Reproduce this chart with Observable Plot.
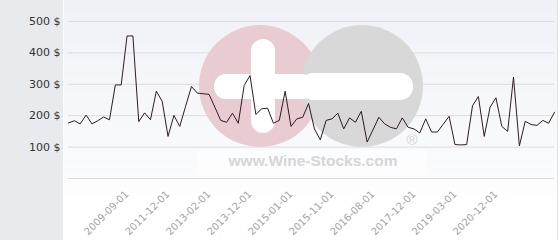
<!DOCTYPE html>
<html>
<head>
<meta charset="utf-8">
<script src="https://cdn.jsdelivr.net/npm/d3@7"></script>
<script src="https://cdn.jsdelivr.net/npm/@observablehq/plot@0.6"></script>
<style>
  html, body { margin: 0; padding: 0; background: #ffffff; }
  #wrap {
    position: relative; width: 560px; height: 240px; overflow: hidden;
    background:
      linear-gradient(to right, #e7ebee 0px, #e7ebee 63px, #ffffff 63px, #ffffff 64px, rgba(0,0,0,0) 64px, rgba(0,0,0,0) 557px, #e2e2e2 557px, #e2e2e2 558px, #ffffff 558px),
      linear-gradient(to bottom, #f0f1f7 0px, #fafbfd 170px, #ffffff 200px);
  }
  #wm, #under, #over { position: absolute; left: 0; top: 0; }
</style>
</head>
<body>
<div id="wrap">
  <div id="under"></div>
  <svg id="wm" width="560" height="240" xmlns="http://www.w3.org/2000/svg">
    <circle cx="260" cy="86" r="61" fill="#e9cbd2"/>
    <circle cx="362" cy="86" r="61" fill="#d8d8d9"/>
    <rect x="251" y="39" width="24" height="94" rx="12" fill="#ffffff"/>
    <rect x="214" y="74" width="100" height="25" rx="12" fill="#ffffff"/>
    <rect x="300" y="73" width="113" height="27" rx="13" fill="#ffffff"/>
    <rect x="197" y="150" width="230" height="25" fill="#ffffff" opacity="0.55"/>
    <text x="313" y="166" text-anchor="middle" font-family="Liberation Sans, Arial, sans-serif" font-weight="bold" font-size="15.5" fill="#d6d6d6">www.Wine-Stocks.com</text>
    <text x="412" y="145" text-anchor="middle" font-family="Liberation Sans, Arial, sans-serif" font-size="15" fill="#d2d2d2">®</text>
  </svg>
  <div id="over"></div>
</div>
<script>
// Price per auction (USD), in chronological order
const prices = [
  177, 184, 174, 202, 174, 184, 196, 187, 298, 298,
  454, 454, 181, 209, 187, 278, 246, 134, 201, 166,
  230, 293, 272, 270, 268, 227, 185, 179, 208, 176,
  296, 328, 204, 222, 224, 176, 185, 278, 166, 190,
  195, 239, 158, 123, 185, 190, 208, 158, 193, 179,
  214, 116, 155, 195, 174, 163, 158, 193, 163, 158,
  145, 190, 148, 148, 173, 198, 108, 107, 108, 232,
  261, 134, 227, 257, 166, 150, 323, 104, 182, 172,
  169, 185, 176, 211
];
// Auction positions that carry a date label, and those labels
const labelPositions = [10, 17, 24, 31, 38, 45, 52, 59, 66, 73];
const dateLabels = [
  "2009-09-01", "2011-12-01", "2013-02-01", "2013-12-01", "2015-01-01",
  "2015-11-01", "2016-08-01", "2017-12-01", "2019-03-01", "2020-12-01"
];
const yTicks = [100, 200, 300, 400, 500];
const gridTicks = [0, 100, 200, 300, 400, 500];

const rows = prices.map((p, i) => ({i, price: p}));
const labelOf = new Map(labelPositions.map((p, k) => [p, dateLabels[k]]));

const common = {
  width: 560,
  height: 240,
  marginLeft: 68,
  marginRight: 6,
  marginTop: 21,
  marginBottom: 62,
  style: {background: "transparent", fontFamily: "DejaVu Sans, sans-serif", overflow: "visible"},
  x: {domain: [0, prices.length - 1], axis: null},
  y: {domain: [0, 500], axis: null}
};

// Grid and axes (below the watermark)
const under = Plot.plot({
  ...common,
  marks: [
    Plot.gridY(gridTicks, {stroke: "#dcdcdc", strokeOpacity: 1, strokeWidth: 1}),
    Plot.axisY(yTicks, {tickSize: 0, tickPadding: 8, fontSize: 11, fill: "#333333", tickFormat: d => `${d} $`, label: null}),
    Plot.axisX(labelPositions, {tickSize: 0, tickRotate: -45, tickPadding: 14, fontSize: 10, fill: "#a3a3a3", tickFormat: d => labelOf.get(d), label: null})
  ]
});
// Price line (above the watermark)
const over = Plot.plot({
  ...common,
  marks: [
    Plot.lineY(rows, {x: "i", y: "price", stroke: "#2e1b25", strokeWidth: 1})
  ]
});
document.getElementById("under").appendChild(under);
document.getElementById("over").appendChild(over);
</script>
</body>
</html>
